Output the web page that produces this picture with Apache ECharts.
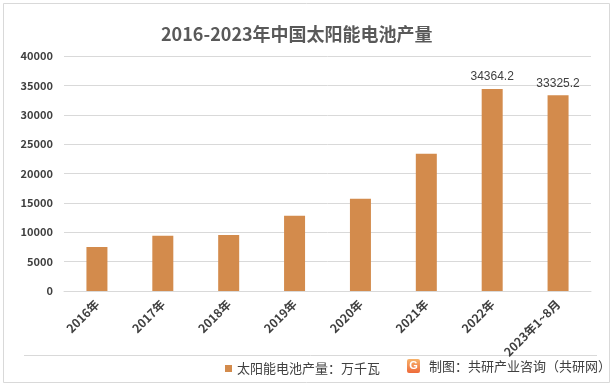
<!DOCTYPE html>
<html>
<head>
<meta charset="utf-8">
<script src="https://cdn.jsdelivr.net/npm/echarts@6/dist/echarts.min.js"></script>
<style>
html,body{margin:0;padding:0;background:#fff;}
#c{width:614px;height:388px;}
</style>
</head>
<body>
<div id="c"></div>
<script>
const categories = ['2016年','2017年','2018年','2019年','2020年','2021年','2022年','2023年1~8月'];
const production = [7500, 9400, 9550, 12800, 15700, 23350, 34364.2, 33325.2];
const labelledIndices = [6, 7];
const yTicks = {min: 0, max: 40000, interval: 5000};

const FONT = '"Noto Sans CJK SC", "Noto Sans", sans-serif';
const chart = echarts.init(document.getElementById('c'));
chart.setOption({
  backgroundColor: '#ffffff',
  animation: false,
  title: {
    text: '2016-2023年中国太阳能电池产量',
    left: 156, top: 20,
    textStyle: {fontFamily: FONT, fontSize: 18, fontWeight: 'bold', color: '#595959'}
  },
  legend: {
    left: 220, top: 357,
    itemWidth: 7, itemHeight: 7, itemGap: 3,
    icon: 'rect',
    textStyle: {fontFamily: FONT, fontSize: 13, color: '#404040'},
    data: ['太阳能电池产量：万千瓦']
  },
  grid: {left: 64, right: 23, top: 56, bottom: 97, containLabel: false},
  xAxis: {
    type: 'category',
    data: categories,
    axisLine: {lineStyle: {color: '#d9d9d9', width: 1}},
    axisTick: {show: false},
    axisLabel: {
      rotate: 45, margin: 11, interval: 0,
      fontFamily: FONT, fontSize: 12, fontWeight: 'bold', color: '#404040'
    }
  },
  yAxis: {
    type: 'value',
    min: yTicks.min, max: yTicks.max, interval: yTicks.interval,
    axisLine: {show: false},
    axisTick: {show: false},
    splitLine: {lineStyle: {color: '#d9d9d9', width: 1}},
    axisLabel: {margin: 11, formatter: v => String(v),
      fontFamily: FONT, fontSize: 11, fontWeight: 'bold', color: '#404040'}
  },
  series: [{
    name: '太阳能电池产量：万千瓦',
    type: 'bar',
    barWidth: 21,
    itemStyle: {color: '#d38b4c'},
    data: production.map((v, i) => ({
      value: v,
      label: {
        show: labelledIndices.includes(i),
        position: 'top', distance: 6,
        fontFamily: '"Liberation Sans", sans-serif', fontSize: 12, color: '#404040'
      }
    }))
  }],
  graphic: [
    {type: 'rect', shape: {x: 3.5, y: 3.5, width: 606, height: 379},
     style: {fill: 'none', stroke: '#d9d9d9', lineWidth: 1}, silent: true, z: 0},
    {type: 'line', shape: {x1: 24, y1: 355.5, x2: 597, y2: 355.5},
     style: {stroke: '#d9d9d9', lineWidth: 1}, silent: true},
    {type: 'rect', shape: {x: 407, y: 359, width: 13, height: 14, r: 2},
     style: {fill: new echarts.graphic.LinearGradient(0, 0, 0, 1, [
       {offset: 0, color: '#f7b26a'}, {offset: 1, color: '#ee6a3a'}])}, silent: true},
    {type: 'text', style: {x: 413.5, y: 366, text: 'G', align: 'center', verticalAlign: 'middle',
      fill: '#ffffff', font: 'bold 11px "Liberation Sans", sans-serif'}, silent: true},
    {type: 'text', style: {x: 429, y: 366, text: '制图：共研产业咨询（共研网）', verticalAlign: 'middle',
      fill: '#404040', font: '13px "Noto Sans CJK SC", sans-serif'}, silent: true}
  ]
});
</script>
</body>
</html>
